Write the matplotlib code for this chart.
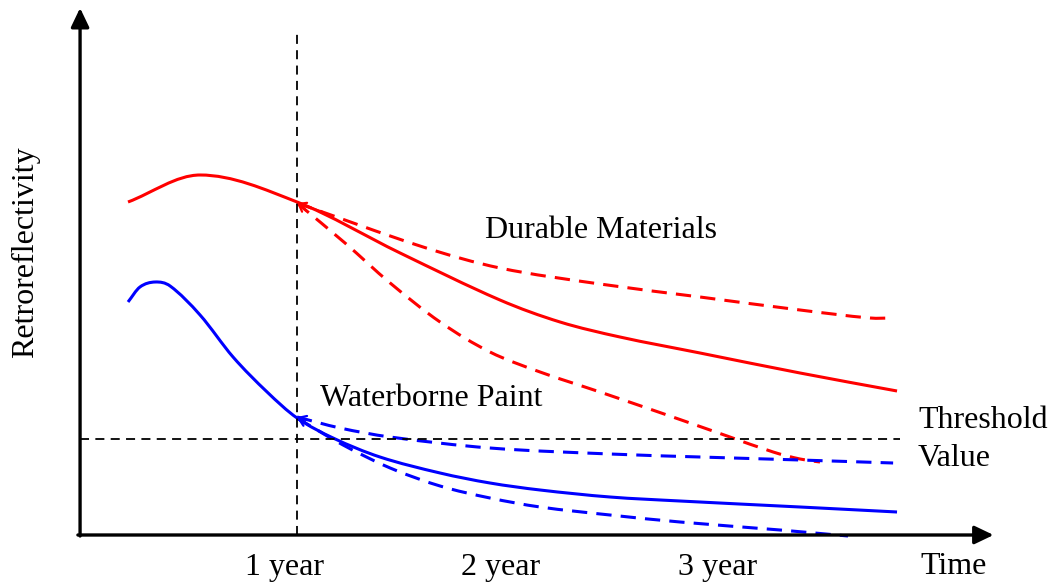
import matplotlib.pyplot as plt
from matplotlib.path import Path
from matplotlib.patches import PathPatch

plt.rcParams['font.family'] = ['Liberation Serif', 'DejaVu Serif']

# time in years, retroreflectivity in arbitrary units
red_t = [0.221, 0.553, 1.0, 1.475, 1.935, 2.212, 2.488, 2.857, 3.318, 3.765]
red_r = [3.33, 3.60, 3.33, 2.82, 2.35, 2.13, 1.98, 1.82, 1.62, 1.44]

red_hi_t = [1.0, 1.581, 1.935, 2.396, 2.857, 3.318, 3.641, 3.747]
red_hi_r = [3.32, 2.88, 2.67, 2.51, 2.38, 2.25, 2.17, 2.17]

red_lo_t = [1.0, 1.221, 1.429, 1.659, 1.889, 2.120, 2.396, 2.705, 2.982, 3.194, 3.318, 3.410]
red_lo_r = [3.32, 2.92, 2.52, 2.13, 1.83, 1.63, 1.43, 1.20, 0.99, 0.83, 0.76, 0.73]

blue_t = [0.221, 0.276, 0.346, 0.415, 0.553, 0.705, 0.862, 1.0, 1.166, 1.382, 1.659, 1.889, 2.120, 2.442, 2.765, 3.318, 3.765]
blue_r = [2.33, 2.48, 2.53, 2.49, 2.20, 1.78, 1.43, 1.17, 0.97, 0.78, 0.62, 0.52, 0.45, 0.38, 0.34, 0.28, 0.23]

blue_hi_t = [1.0, 1.198, 1.429, 1.889, 2.442, 2.857, 3.318, 3.747]
blue_hi_r = [1.18, 1.07, 0.98, 0.87, 0.81, 0.78, 0.75, 0.72]

blue_lo_t = [1.0, 1.212, 1.429, 1.659, 1.889, 2.120, 2.442, 2.765, 3.226, 3.539]
blue_lo_r = [1.17, 0.90, 0.67, 0.49, 0.37, 0.28, 0.20, 0.13, 0.05, -0.01]

threshold = 0.96
year_ticks = [1, 2, 3]
year_labels = ['1 year', '2 year', '3 year']


def smooth_path(xs, ys):
    # cubic hermite through the points (slopes from neighbours), as beziers
    n = len(xs)
    m = []
    for i in range(n):
        a = max(i - 1, 0)
        b = min(i + 1, n - 1)
        m.append((ys[b] - ys[a]) / (xs[b] - xs[a]))
    verts = [(xs[0], ys[0])]
    codes = [Path.MOVETO]
    for i in range(n - 1):
        h = xs[i + 1] - xs[i]
        verts += [(xs[i] + h / 3, ys[i] + m[i] * h / 3),
                  (xs[i + 1] - h / 3, ys[i + 1] - m[i + 1] * h / 3),
                  (xs[i + 1], ys[i + 1])]
        codes += [Path.CURVE4] * 3
    return Path(verts, codes)


fig = plt.figure(figsize=(10.5, 5.84), dpi=100)
ax = fig.add_axes([0, 0, 1, 1])
ax.set_xlim(-0.369, 4.470)
ax.set_ylim(-0.49, 5.35)
ax.axis('off')

lw = 2.2
dash = (0, (5, 3))

# axes with arrows
head = '-|>,head_length=1.15,head_width=0.55'
ax.annotate('', xy=(0, 5.27), xytext=(0, -0.01),
            arrowprops=dict(arrowstyle=head, color='black', lw=2.4, shrinkA=0, shrinkB=0))
ax.annotate('', xy=(4.21, 0), xytext=(-0.01, 0),
            arrowprops=dict(arrowstyle=head, color='black', lw=2.4, shrinkA=0, shrinkB=0))

# reference lines
ax.plot([1, 1], [0, 5.05], color='black', lw=1.3, linestyle=(0, (5, 3.5)))
ax.plot([0, 3.779], [threshold, threshold], color='black', lw=1.3, linestyle=(0, (5, 3.5)))

curves = [(red_t, red_r, '#ff0000', '-'),
          (red_hi_t, red_hi_r, '#ff0000', dash),
          (red_lo_t, red_lo_r, '#ff0000', dash),
          (blue_t, blue_r, '#0000ff', '-'),
          (blue_hi_t, blue_hi_r, '#0000ff', dash),
          (blue_lo_t, blue_lo_r, '#0000ff', dash)]
for tt, rr, c, ls in curves:
    ax.add_patch(PathPatch(smooth_path(tt, rr), fill=False, edgecolor=c, lw=lw,
                           linestyle=ls, capstyle='butt'))
    if ls != '-':
        # small arrowhead at the start of the dashed branch
        x2 = tt[0] + (tt[1] - tt[0]) * 0.2
        y2 = rr[0] + (rr[1] - rr[0]) * 0.2
        ax.annotate('', xy=(tt[0], rr[0]), xytext=(x2, y2),
                    arrowprops=dict(arrowstyle='->,head_length=0.5,head_width=0.25', color=c, lw=1.6, shrinkA=0, shrinkB=0))

fs = 23
ax.text(1.866, 3.05, 'Durable Materials', fontsize=fs, ha='left', va='center')
ax.text(1.106, 1.37, 'Waterborne Paint', fontsize=fs, ha='left', va='center')
ax.text(3.862, 1.15, 'Threshold', fontsize=fs, ha='left', va='center')
ax.text(3.862, 0.77, 'Value', fontsize=fs, ha='left', va='center')
for t, lab in zip(year_ticks, year_labels):
    ax.text(t - 0.06, -0.32, lab, fontsize=fs, ha='center', va='center')
ax.text(3.871, -0.32, 'Time', fontsize=fs, ha='left', va='center')
ax.text(-0.253, 2.83, 'Retroreflectivity', fontsize=fs, ha='center', va='center', rotation=90)

fig.savefig('out.png', dpi=100)
